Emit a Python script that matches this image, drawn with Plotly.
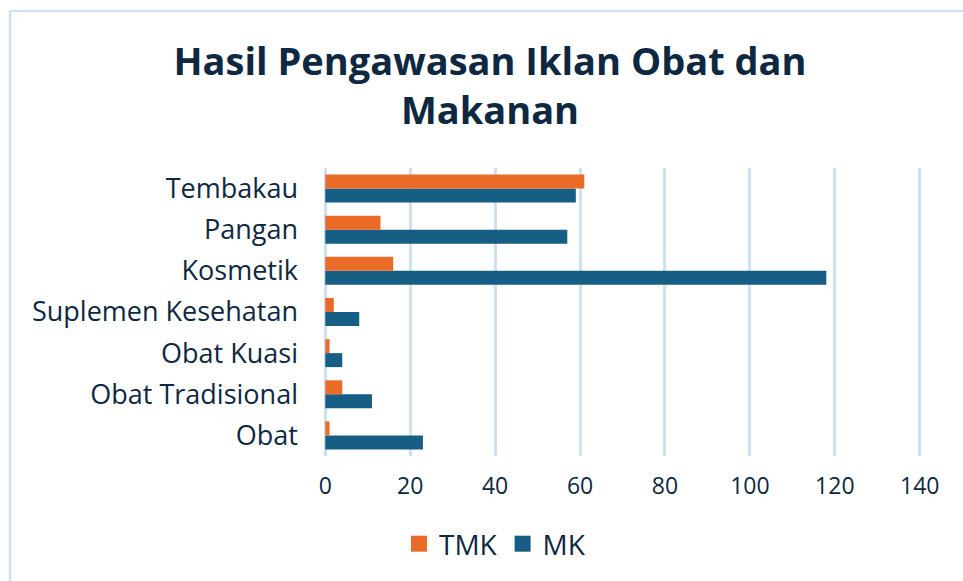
import plotly.graph_objects as go

categories = ["Obat", "Obat Tradisional", "Obat Kuasi", "Suplemen Kesehatan", "Kosmetik", "Pangan", "Tembakau"]
tmk_values = [1, 4, 1, 2, 16, 13, 61]
mk_values = [23, 11, 4, 8, 118, 57, 59]
x_ticks = [0, 20, 40, 60, 80, 100, 120, 140]

navy = "#0E2841"
grid = "#CFE0F3"
orange = "#EA6A28"
blue = "#165E84"
font_family = "Open Sans, Arial, sans-serif"

fig = go.Figure()
fig.add_trace(go.Bar(y=categories, x=mk_values, name="MK", orientation="h", showlegend=False,
                     marker=dict(color=blue, line=dict(width=0))))
fig.add_trace(go.Bar(y=categories, x=tmk_values, name="TMK", orientation="h", showlegend=False,
                     marker=dict(color=orange, line=dict(width=0))))
# legend entries with larger square symbols
fig.add_trace(go.Scatter(x=[None], y=[None], mode="markers", name="TMK",
                         marker=dict(symbol="square", size=18, color=orange)))
fig.add_trace(go.Scatter(x=[None], y=[None], mode="markers", name="MK",
                         marker=dict(symbol="square", size=18, color=blue)))

W, H = 963, 581
ml, mr, mt, mb = 324, 42, 168, 125
pw, ph = W - ml - mr, H - mt - mb

def px_x(p):
    return (p - ml) / pw

def px_y(p):
    return (H - mb - p) / ph

fig.update_layout(
    width=W, height=H,
    margin=dict(l=ml, r=mr, t=mt, b=mb),
    paper_bgcolor="white", plot_bgcolor="white",
    barmode="group", bargap=0.32, bargroupgap=0,
    font=dict(family=font_family, color=navy),
    title=dict(text="<b>Hasil Pengawasan Iklan Obat dan<br>Makanan</b>",
               x=490 / W, xref="container", xanchor="center",
               y=1 - 75 / H, yref="container", yanchor="top",
               font=dict(size=38, color=navy, family=font_family)),
    xaxis=dict(range=[-0.3, 140.3], tickvals=x_ticks, showgrid=True, gridcolor=grid, gridwidth=2.5,
               zeroline=False, showline=False, ticks="", tickfont=dict(size=23, color=navy),
               ticklabelstandoff=14, fixedrange=True),
    yaxis=dict(showgrid=False, zeroline=False, showline=False, ticks="",
               tickfont=dict(size=27, color=navy), ticklabelstandoff=25,
               range=[-0.5, 6.5], fixedrange=True),
    legend=dict(orientation="h", x=px_x(495), xanchor="center", y=px_y(544), yanchor="middle",
                font=dict(size=28, color=navy)),
    showlegend=True,
    shapes=[
        dict(type="line", xref="paper", yref="paper", x0=px_x(10), x1=px_x(10), y0=px_y(11), y1=px_y(600),
             line=dict(color=grid, width=2.5)),
        dict(type="line", xref="paper", yref="paper", x0=px_x(10), x1=px_x(980), y0=px_y(11), y1=px_y(11),
             line=dict(color=grid, width=2)),
    ],
)

fig.write_html("out.html", config={"displayModeBar": False},
               post_script="document.body.style.margin='0';")
